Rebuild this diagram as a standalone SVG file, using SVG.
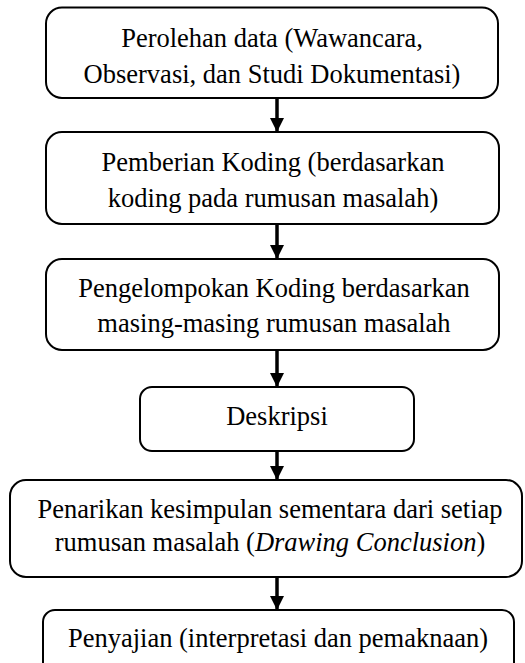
<svg xmlns="http://www.w3.org/2000/svg" width="525" height="663" viewBox="0 0 525 663">
<style>
.box{fill:#fff;stroke:#000;stroke-width:2}
.t{font-family:'Liberation Serif','Times New Roman',serif;font-size:26.5px;fill:#000;text-anchor:middle}
.shaft{stroke:#000;stroke-width:3.5;fill:none}
</style>
<defs>
<marker id="ah" markerUnits="userSpaceOnUse" markerWidth="16" markerHeight="14" refX="15" refY="7.5" orient="auto" viewBox="0 0 16 15">
<path d="M0,0 L15,7.5 L0,15 Z" fill="#000"/>
</marker>
</defs>
<rect width="525" height="663" fill="#fff"/>
<g id="connectors">
<line class="shaft" x1="277" y1="98" x2="277" y2="132" marker-end="url(#ah)"/>
<line class="shaft" x1="277" y1="224" x2="277" y2="259" marker-end="url(#ah)"/>
<line class="shaft" x1="277" y1="350" x2="277" y2="387" marker-end="url(#ah)"/>
<line class="shaft" x1="277" y1="451" x2="277" y2="480" marker-end="url(#ah)"/>
<line class="shaft" x1="277" y1="577" x2="277" y2="610" marker-end="url(#ah)"/>
</g>
<g id="n1">
<rect class="box" x="46" y="7.5" width="452" height="90.5" rx="16"/>
<text class="t" x="272" y="47">Perolehan data (Wawancara,</text>
<text class="t" x="272" y="83">Observasi, dan Studi Dokumentasi)</text>
</g>
<g id="n2">
<rect class="box" x="46" y="132" width="453" height="92" rx="16"/>
<text class="t" x="273" y="171">Pemberian Koding (berdasarkan</text>
<text class="t" x="273" y="207">koding pada rumusan masalah)</text>
</g>
<g id="n3">
<rect class="box" x="46" y="259" width="453" height="91" rx="16"/>
<text class="t" x="274" y="297">Pengelompokan Koding berdasarkan</text>
<text class="t" x="274" y="332">masing-masing rumusan masalah</text>
</g>
<g id="n4">
<rect class="box" x="140" y="387" width="274" height="64" rx="12"/>
<text class="t" x="277" y="425">Deskripsi</text>
</g>
<g id="n5">
<rect class="box" x="10" y="480" width="512" height="97" rx="16"/>
<text class="t" x="270" y="518">Penarikan kesimpulan sementara dari setiap</text>
<text class="t" x="270" y="551">rumusan masalah (<tspan font-style="italic">Drawing Conclusion</tspan>)</text>
</g>
<g id="n6">
<rect class="box" x="43" y="610" width="471" height="70" rx="12"/>
<text class="t" x="278" y="647">Penyajian (interpretasi dan pemaknaan)</text>
</g>
</svg>
